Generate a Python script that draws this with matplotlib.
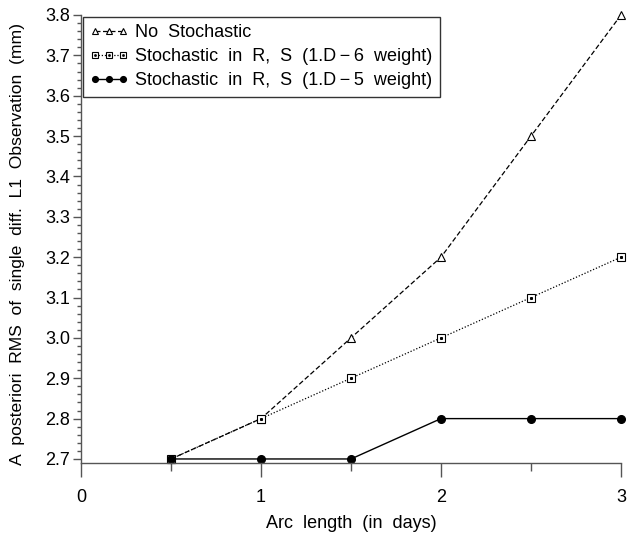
import matplotlib
matplotlib.use("Agg")
import matplotlib.pyplot as plt
from matplotlib.ticker import MultipleLocator, FormatStrFormatter

plt.rcParams['font.family'] = ['Liberation Sans', 'DejaVu Sans']

arc = [0.5, 1.0, 1.5, 2.0, 2.5, 3.0]
no_stoch = [2.7, 2.8, 3.0, 3.2, 3.5, 3.8]
stoch_6 = [2.7, 2.8, 2.9, 3.0, 3.1, 3.2]
stoch_5 = [2.7, 2.7, 2.7, 2.8, 2.8, 2.8]
labels = ["No  Stochastic",
          "Stochastic  in  R,  S  (1.D\u2009\u2212\u20096  weight)",
          "Stochastic  in  R,  S  (1.D\u2009\u2212\u20095  weight)"]
xlabel = "Arc  length  (in  days)"
ylabel = "A  posteriori  RMS  of  single  diff.  L1  Observation  (mm)"

FS = 13
fig = plt.figure(figsize=(6.28, 5.35), dpi=100)
ax = fig.add_axes([81/628, 1-463/535, (621-81)/628, (463-15)/535])

l1, = ax.plot(arc, no_stoch, color='black', lw=0.9, ls=(0, (4, 2)),
              marker='^', ms=6, mfc='white', mec='black', mew=0.8,
              clip_on=False)
l2, = ax.plot(arc, stoch_6, color='black', lw=0.9, ls=(0, (1, 1.5)),
              marker='s', ms=6, mfc='white', mec='black', mew=0.8,
              clip_on=False)
l2b, = ax.plot(arc, stoch_6, ls='none', marker='s', ms=1.2, color='black',
               clip_on=False)
l3, = ax.plot(arc, stoch_5, color='black', lw=1.0, ls='-',
              marker='o', ms=5.5, mfc='black', mec='black', clip_on=False)

ax.set_xlim(0, 3)
ax.set_ylim(2.69, 3.8)
ax.xaxis.set_major_locator(MultipleLocator(1))
ax.xaxis.set_minor_locator(MultipleLocator(0.5))
ax.yaxis.set_major_locator(MultipleLocator(0.1))
ax.yaxis.set_minor_locator(MultipleLocator(0.02))
ax.yaxis.set_major_formatter(FormatStrFormatter('%.1f'))
ax.xaxis.set_major_formatter(FormatStrFormatter('%d'))

for s in ['top', 'right']:
    ax.spines[s].set_visible(False)
for s in ['left', 'bottom']:
    ax.spines[s].set_color('#555555')
    ax.spines[s].set_linewidth(1.0)

ax.tick_params(axis='x', which='major', direction='out', length=10,
               width=1.0, color='#555555', labelsize=FS, pad=9)
ax.tick_params(axis='x', which='minor', direction='out', length=6,
               width=1.0, color='#555555')
ax.tick_params(axis='y', which='major', direction='out', length=6,
               width=1.0, color='#555555', labelsize=FS, pad=2)
ax.tick_params(axis='y', which='minor', direction='out', length=3,
               width=1.0, color='#555555')

ax.set_xlabel(xlabel, fontsize=FS, labelpad=6)
ax.set_ylabel(ylabel, fontsize=12.6)
ax.yaxis.set_label_coords(-0.103, 0.49)

leg = ax.legend([l1, (l2, l2b), l3], labels, loc='upper left',
                fontsize=FS, numpoints=3, handlelength=2.1,
                handletextpad=0.4, borderaxespad=0.1, labelspacing=0.4,
                frameon=True, fancybox=False, borderpad=0.4,
                markerscale=0.75)
leg.get_frame().set_edgecolor('black')
leg.get_frame().set_linewidth(1.0)

fig.savefig("out.png", dpi=100)
